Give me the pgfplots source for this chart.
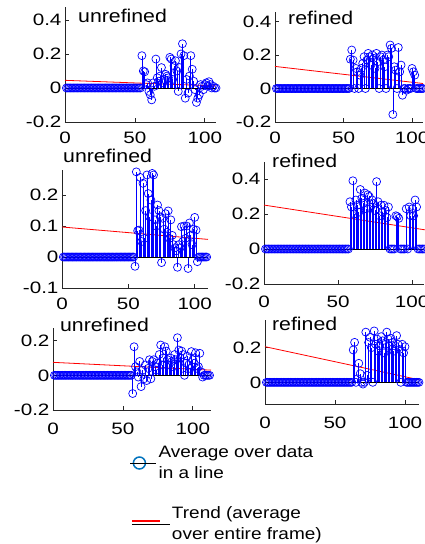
\documentclass[border=0pt]{standalone}
\usepackage{pgfplots}
\pgfplotsset{compat=1.18}
\usepackage{pgfplotstable}
\usepackage{fontspec}
\setmainfont{Liberation Sans}[FakeStretch=1.15]
\newfontfamily\tickfont{Liberation Sans}[FakeStretch=1.25]
\definecolor{stemblue}{RGB}{0,0,255}
\definecolor{legblue}{RGB}{0,114,189}
\definecolor{trendred}{RGB}{255,0,0}

\pgfplotstableread{
x a b c d e f
1 0 0 0 0 0 0
2 0 0 0 0 0 0
3 0 0 0 0 0 0
4 0 0 0 0 0 0
5 0 0 0 0 0 0
6 0 0 0 0 0 0
7 0 0 0 0 0 0
8 0 0 0 0 0 0
9 0 0 0 0 0 0
10 0 0 0 0 0 0
11 0 0 0 0 0 0
12 0 0 0 0 0 0
13 0 0 0 0 0 0
14 0 0 0 0 0 0
15 0 0 0 0 0 0
16 0 0 0 0 0 0
17 0 0 0 0 0 0
18 0 0 0 0 0 0
19 0 0 0 0 0 0
20 0 0 0 0 0 0
21 0 0 0 0 0 0
22 0 0 0 0 0 0
23 0 0 0 0 0 0
24 0 0 0 0 0 0
25 0 0 0 0 0 0
26 0 0 0 0 0 0
27 0 0 0 0 0 0
28 0 0 0 0 0 0
29 0 0 0 0 0 0
30 0 0 0 0 0 0
31 0 0 0 0 0 0
32 0 0 0 0 0 0
33 0 0 0 0 0 0
34 0 0 0 0 0 0
35 0 0 0 0 0 0
36 0 0 0 0 0 0
37 0 0 0 0 0 0
38 0 0 0 0 0 0
39 0 0 0 0 0 0
40 0 0 0 0 0 0
41 0 0 0 0 0 0
42 0 0 0 0 0 0
43 0 0 0 0 0 0
44 0 0 0 0 0 0
45 0 0 0 0 0 0
46 0 0 0 0 0 0
47 0 0 0 0 0 0
48 0 0 0 0 0 0
49 0 0 0 0 0 0
50 0 0 0 0 0 0
51 0 0 0 0 0 0
52 0 0 0 0 0 0
53 0 0 0 0 0 0
54 0 0 0 0 0 0
55 0.19 0.175 -0.03 0 0 0
56 0.10 0.23 0.275 0 0 0
57 0.095 0.17 0.085 0 -0.105 0
58 0.02 0.0 0.087 0.27 0.165 0
59 0.03 0.12 0.257 0.24 0.05 0
60 -0.02 0.10 0.05 0.39 0.02 0
61 -0.04 0.0 0.238 0.20 -0.01 0
62 -0.07 0.08 0.06 0.28 0.08 0
63 0.03 0.12 0.15 0.25 -0.065 0.187
64 0.01 0.15 0.265 0.21 0.03 0.231
65 0.17 0.19 0.205 0.34 -0.02 0
66 0.06 0.0 0.13 0.29 0.06 0.02
67 0.04 0.17 0.184 0.26 -0.03 0.11
68 0.07 0.21 0.27 0.32 0.04 0.05
69 0.12 0.19 0.265 0.23 0.09 0
70 0.03 0.14 0.12 0.31 -0.02 -0.01
71 0.05 0.20 0.10 0.30 0.08 0
72 0.08 0.18 0.168 0.24 0.09 0.29
73 0.07 0.12 0.15 0.28 0.05 0.04
74 0.06 0.21 0.13 0.26 0.03 0.23
75 0.18 0.16 -0.018 0.22 0.07 0.26
76 0.17 0.0 0.125 0.385 0.12 0.20
77 0.05 0.19 0.09 0.27 0.175 0
78 0.13 0.20 0.14 0.19 0.06 0.297
79 0.16 0.17 0.08 0.25 0.10 0.22
80 0.10 0.13 0.149 0.21 0.165 0.25
81 -0.02 0.0 0.06 0.25 0.14 0.18
82 0.12 0.20 0.12 0.22 0.09 0.21
83 0.20 0.19 0.07 0.18 0.06 0.264
84 0.26 0.26 0.04 0.24 0.10 0.24
85 0.19 0.24 0.03 0 0.08 0.17
86 -0.06 -0.155 0.02 0 0.05 0.22
87 0.05 0.13 -0.033 0 0.12 0.29
88 -0.03 0.11 0.04 0 0.09 0.25
89 0.07 0.0 0.03 0.19 0.217 0.21
90 0.19 0.245 0.098 0.185 0.146 0.254
91 0.11 0.10 0.05 0.175 0.10 0.23
92 0.04 0.14 0.10 0 0.14 0.18
93 -0.01 -0.04 0.06 0 0.12 0.21
94 -0.085 0 0.10 0 0.0 0.27
95 -0.06 0 -0.037 0 0.07 0.22
96 -0.04 -0.01 0.11 0.23 0.11 0.19
97 0.02 0 0.07 0 0.06 0
98 0.01 0 0.04 0.24 0.04 0.22
99 -0.01 0 0.09 0.19 0.137 0.17
100 0.02 0.12 0.128 0.23 0.09 0.206
101 0.03 0.10 0.087 0.19 0.07 0
102 0.01 0.08 -0.015 0.28 0.13 0
103 0.037 0 0 0.24 0.04 0
104 0.02 0 0 0 0.05 0
105 0 0 0 0 0.127 0
106 0.01 0 0 0 0.02 0
107 0 0 0 0 -0.01 0
108 0 0 0 0 0 0
109 nan nan 0 nan 0 0
110 nan nan nan nan 0 0
111 nan nan nan nan 0 nan
112 nan nan nan nan 0 nan
}\data

\pgfplotsset{
  panel/.style={
    scale only axis, anchor=south west, clip=false,
    axis lines=left, axis line style={-, black!85, line width=0.8pt},
    tick align=inside, major tick length=4pt, tick style={black!85, line width=0.8pt},
    xmin=0, xtick={0,50,100},
    font=\fontsize{16.5}{20}\selectfont,
    tick label style={font=\tickfont\fontsize{16.5}{20}\selectfont},
    xticklabel style={yshift=-6pt},
    /pgf/number format/assume math mode=true,
    scaled y ticks=false,
    title style={font=\fontsize{18.5}{20}\selectfont, anchor=west, inner sep=0pt, yshift=-4pt},
  },
  stem/.style={ycomb, stemblue, mark=o, mark size=4pt, line width=0.7pt, mark options={line width=0.7pt}},
  trend/.style={trendred, line width=0.8pt},
  base/.style={black, line width=0.8pt},
}

\begin{document}
\begin{tikzpicture}
\path[use as bounding box] (0pt,0pt) rectangle (425pt,-544pt);

% top left
\begin{axis}[panel, at={(65pt,-122pt)}, width=151pt, height=115pt,
  xmax=108, ymin=-0.2, ymax=0.476, ytick={-0.2,0,0.2,0.4},
  title={unrefined}, title style={at={(axis description cs:0.086,0.904)}}]
\addplot[trend] coordinates {(0,0.045) (108,0.012)};
\addplot[stem] table[x=x,y=a]{\data};
\addplot[base] coordinates {(0,0) (108,0)};
\end{axis}

% top right
\begin{axis}[panel, at={(275pt,-122pt)}, width=148pt, height=110pt,
  xmax=108, ymin=-0.2, ymax=0.457, ytick={-0.2,0,0.2,0.4},
  title={refined}, title style={at={(axis description cs:0.088,0.927)}}]
\addplot[trend] coordinates {(0,0.132) (108,0.03)};
\addplot[stem] table[x=x,y=b]{\data};
\addplot[base] coordinates {(0,0) (108,0)};
\end{axis}

% middle left
\begin{axis}[panel, at={(62pt,-288pt)}, width=146pt, height=118pt,
  xmax=110, ymin=-0.1, ymax=0.281, ytick={-0.1,0,0.1,0.2},
  title={unrefined}, title style={at={(axis description cs:0.007,1.10)}}]
\addplot[trend] coordinates {(0,0.097) (110,0.057)};
\addplot[stem] table[x=x,y=c]{\data};
\addplot[base] coordinates {(0,0) (110,0)};
\end{axis}

% middle right
\begin{axis}[panel, at={(264pt,-284pt)}, width=160pt, height=122pt,
  xmax=108, ymin=-0.2, ymax=0.497, ytick={-0.2,0,0.2,0.4},
  xticklabel style={yshift=-2pt},
  title={refined}, title style={at={(axis description cs:0.05,0.99)}}]
\addplot[trend] coordinates {(0,0.251) (109,0.109)};
\addplot[stem] table[x=x,y=d]{\data};
\addplot[base] coordinates {(0,0) (108,0)};
\end{axis}

% bottom left
\begin{axis}[panel, at={(53pt,-410pt)}, width=158pt, height=82pt,
  xmax=113, ymin=-0.2, ymax=0.273, ytick={-0.2,0,0.2},
  xticklabel style={yshift=-3pt},
  title={unrefined}, title style={at={(axis description cs:0.044,1.01)}}]
\addplot[trend] coordinates {(0,0.075) (113,0.03)};
\addplot[stem] table[x=x,y=e]{\data};
\addplot[base] coordinates {(0,0) (113,0)};
\end{axis}

% bottom right
\begin{axis}[panel, at={(265pt,-404pt)}, width=154pt, height=84pt,
  xmax=110, ymin=-0.125, ymax=0.36, ytick={0,0.2},
  xticklabel style={yshift=-3pt},
  title={refined}, title style={at={(axis description cs:0.045,0.93)}}]
\addplot[trend] coordinates {(0,0.206) (110,0.015)};
\addplot[stem] table[x=x,y=f]{\data};
\addplot[base] coordinates {(0,0) (110,0)};
\end{axis}

% legend entries
\begin{axis}[hide axis, scale only axis, width=10pt, height=10pt,
  xmin=0, xmax=1, ymin=0, ymax=1, anchor=west, at={(130pt,-463pt)},
  legend style={at={(0,0.5)}, anchor=west, draw=none, fill=none, inner sep=0pt,
    font=\fontsize{16.5}{21}\selectfont, cells={align=left}}]
\addlegendimage{legend image code/.code={\draw[legblue, line width=1.5pt] (9pt,0pt) circle (6pt); \path (0pt,0pt) -- (26pt,0pt);}}
\addlegendentry{Average over data\\in a line}
\end{axis}

\begin{axis}[hide axis, scale only axis, width=10pt, height=10pt,
  xmin=0, xmax=1, ymin=0, ymax=1, anchor=west, at={(131pt,-524pt)},
  legend style={at={(0,0.5)}, anchor=west, draw=none, fill=none, inner sep=0pt,
    font=\fontsize{16.5}{21}\selectfont, cells={align=left}}]
\addlegendimage{legend image code/.code={\draw[trendred, line width=1.2pt] (0pt,3pt) -- (28pt,3pt); \path (0pt,0pt) -- (38pt,0pt);}}
\addlegendentry{Trend (average\\over entire frame)}
\end{axis}
\end{tikzpicture}
\end{document}
